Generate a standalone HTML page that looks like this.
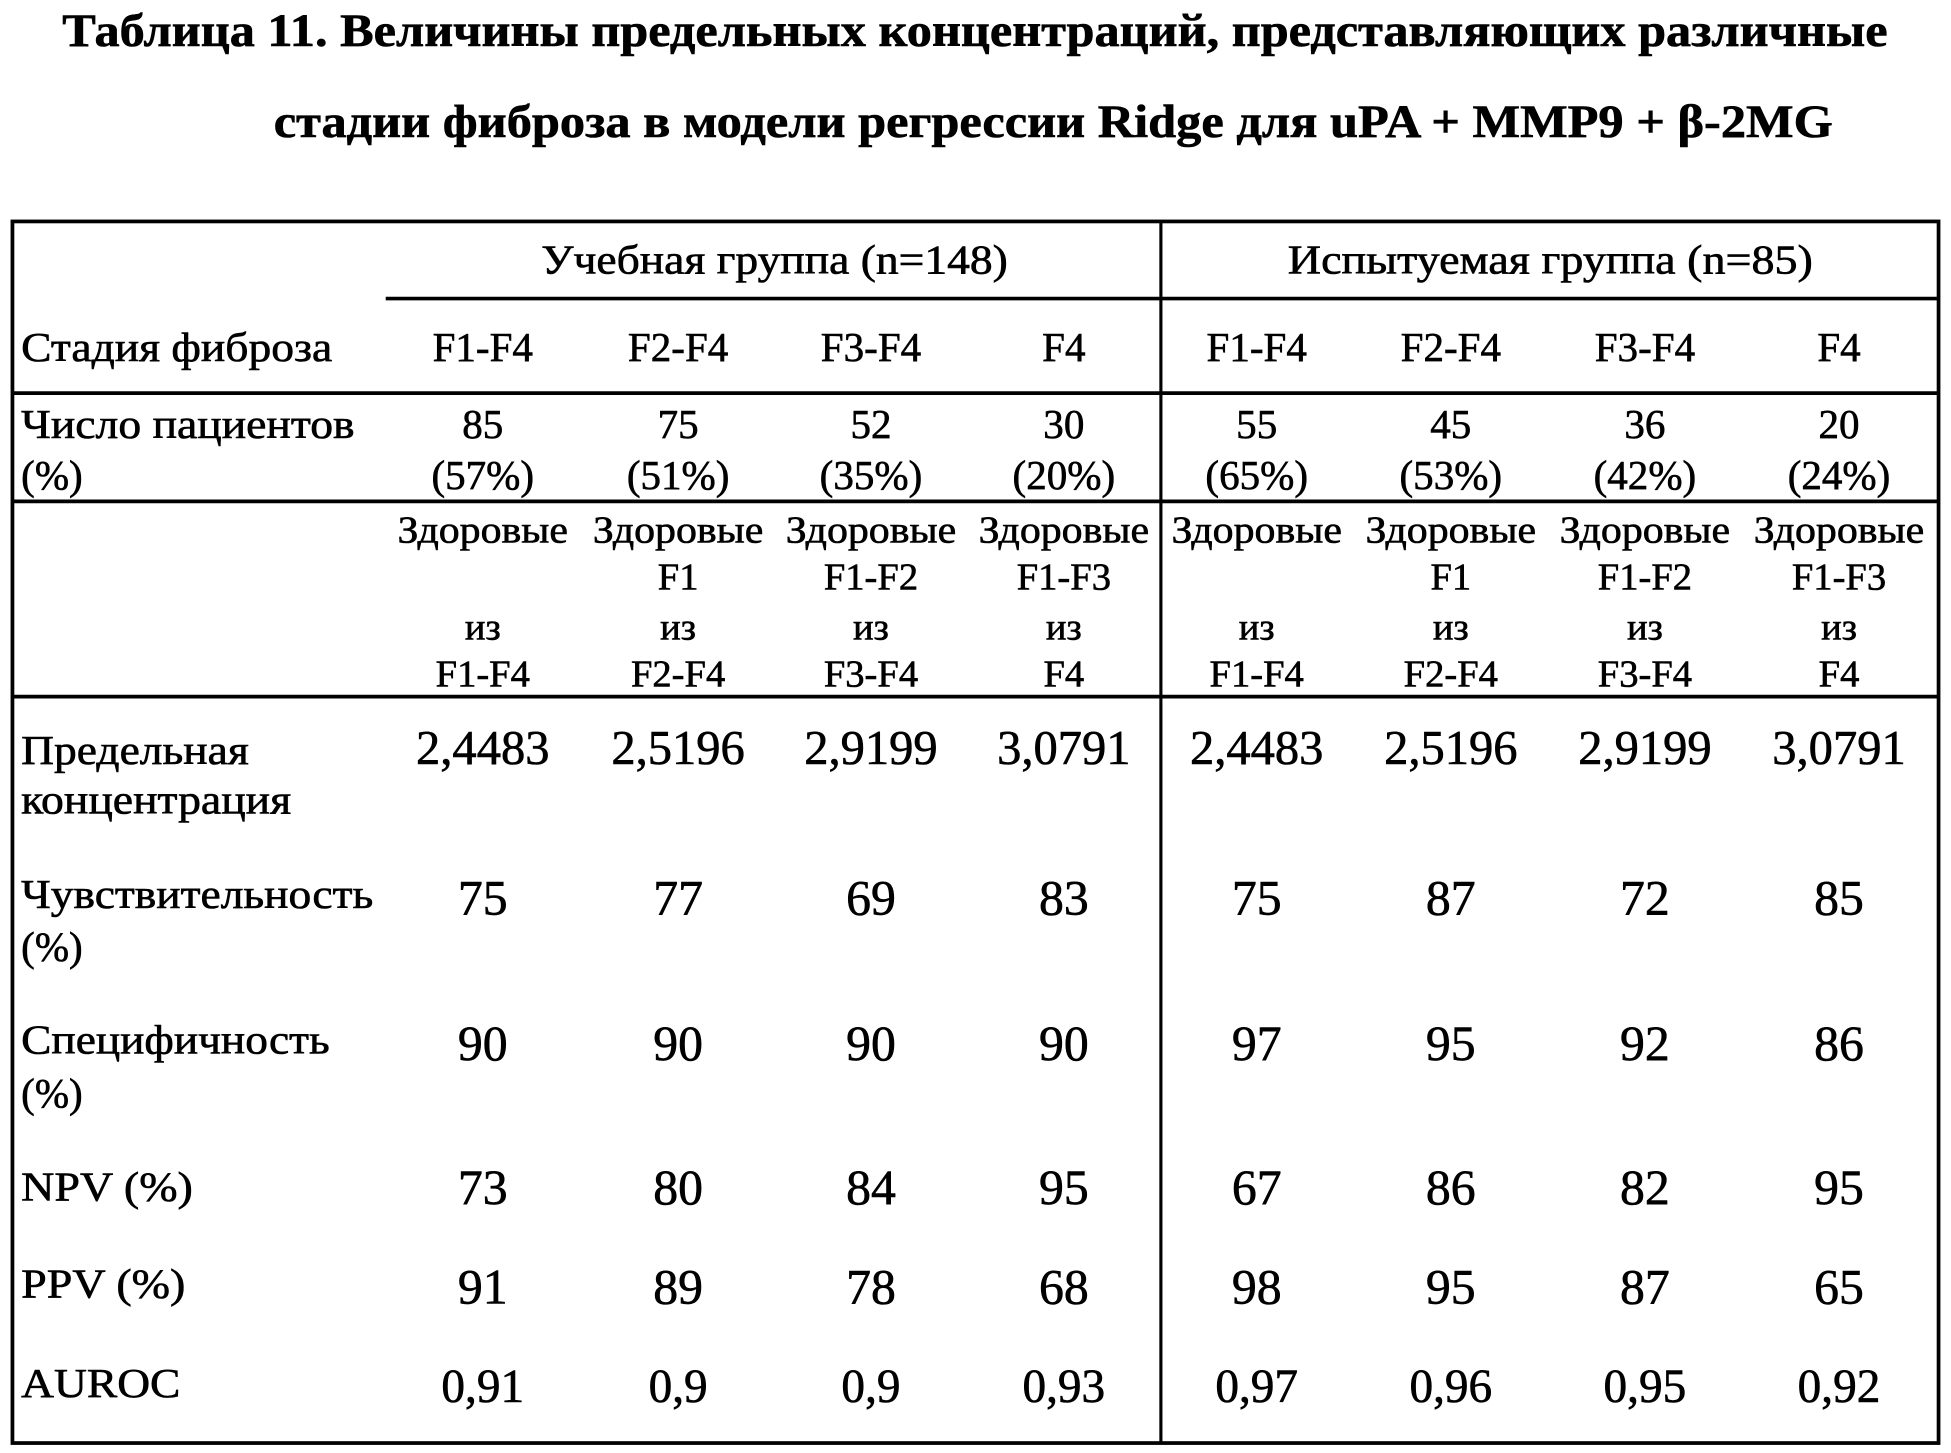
<!DOCTYPE html>
<html><head><meta charset="utf-8"><style>
html,body{margin:0;padding:0;background:#fff;width:1951px;height:1453px;overflow:hidden}
svg{display:block}
text{font-family:"Liberation Serif","DejaVu Serif",serif;fill:#000;stroke:#000;stroke-width:0.5}
</style></head><body>
<svg width="1951" height="1453" viewBox="0 0 1568 1168" preserveAspectRatio="none" xmlns="http://www.w3.org/2000/svg">
<g font-weight="bold" font-size="37">
<text x="50" y="37" textLength="1467" lengthAdjust="spacingAndGlyphs">Таблица 11.   Величины предельных концентраций, представляющих различные</text>
<text x="220" y="110" textLength="1253" lengthAdjust="spacingAndGlyphs">стадии фиброза в модели регрессии Ridge для  uPA + MMP9 + β-2MG</text>
</g>
<g stroke="#000" fill="none">
<rect x="10" y="178" width="1548" height="982" stroke-width="3"/>
<line x1="933" y1="178" x2="933" y2="1160" stroke-width="2.5"/>
<line x1="310" y1="240" x2="1558" y2="240" stroke-width="3"/>
<line x1="10" y1="316" x2="1558" y2="316" stroke-width="3"/>
<line x1="10" y1="403" x2="1558" y2="403" stroke-width="3"/>
<line x1="10" y1="560" x2="1558" y2="560" stroke-width="3"/>
</g>
<g font-size="33">
<text x="435" y="220" textLength="375" lengthAdjust="spacingAndGlyphs">Учебная группа (n=148)</text>
<text x="1035" y="220" textLength="422" lengthAdjust="spacingAndGlyphs">Испытуемая группа (n=85)</text>
<text x="17" y="290" textLength="250" lengthAdjust="spacingAndGlyphs">Стадия фиброза</text>
<text x="17" y="352" textLength="268" lengthAdjust="spacingAndGlyphs">Число пациентов</text>
<text x="17" y="393">(%)</text>
<text x="17" y="614" textLength="183" lengthAdjust="spacingAndGlyphs">Предельная</text>
<text x="17" y="654" textLength="217" lengthAdjust="spacingAndGlyphs">концентрация</text>
<text x="17" y="730" textLength="283" lengthAdjust="spacingAndGlyphs">Чувствительность</text>
<text x="17" y="772">(%)</text>
<text x="17" y="847" textLength="248" lengthAdjust="spacingAndGlyphs">Специфичность</text>
<text x="17" y="890">(%)</text>
<text x="17" y="965" textLength="138" lengthAdjust="spacingAndGlyphs">NPV (%)</text>
<text x="17" y="1043" textLength="132" lengthAdjust="spacingAndGlyphs">PPV (%)</text>
<text x="17" y="1123" textLength="128" lengthAdjust="spacingAndGlyphs">AUROC</text>
</g>
<g font-size="33" text-anchor="middle">
<text x="388" y="290">F1-F4</text><text x="545" y="290">F2-F4</text><text x="700" y="290">F3-F4</text><text x="855" y="290">F4</text>
<text x="1010" y="290">F1-F4</text><text x="1166" y="290">F2-F4</text><text x="1322" y="290">F3-F4</text><text x="1478" y="290">F4</text>
<text x="388" y="352">85</text><text x="545" y="352">75</text><text x="700" y="352">52</text><text x="855" y="352">30</text>
<text x="1010" y="352">55</text><text x="1166" y="352">45</text><text x="1322" y="352">36</text><text x="1478" y="352">20</text>
<text x="388" y="393">(57%)</text><text x="545" y="393">(51%)</text><text x="700" y="393">(35%)</text><text x="855" y="393">(20%)</text>
<text x="1010" y="393">(65%)</text><text x="1166" y="393">(53%)</text><text x="1322" y="393">(42%)</text><text x="1478" y="393">(24%)</text>
</g>
<g font-size="31" text-anchor="middle">
<text x="388" y="436" textLength="137" lengthAdjust="spacingAndGlyphs">Здоровые</text><text x="545" y="436" textLength="137" lengthAdjust="spacingAndGlyphs">Здоровые</text><text x="700" y="436" textLength="137" lengthAdjust="spacingAndGlyphs">Здоровые</text><text x="855" y="436" textLength="137" lengthAdjust="spacingAndGlyphs">Здоровые</text>
<text x="1010" y="436" textLength="137" lengthAdjust="spacingAndGlyphs">Здоровые</text><text x="1166" y="436" textLength="137" lengthAdjust="spacingAndGlyphs">Здоровые</text><text x="1322" y="436" textLength="137" lengthAdjust="spacingAndGlyphs">Здоровые</text><text x="1478" y="436" textLength="137" lengthAdjust="spacingAndGlyphs">Здоровые</text>
<text x="545" y="474">F1</text><text x="700" y="474">F1-F2</text><text x="855" y="474">F1-F3</text>
<text x="1166" y="474">F1</text><text x="1322" y="474">F1-F2</text><text x="1478" y="474">F1-F3</text>
<text x="388" y="514">из</text><text x="545" y="514">из</text><text x="700" y="514">из</text><text x="855" y="514">из</text>
<text x="1010" y="514">из</text><text x="1166" y="514">из</text><text x="1322" y="514">из</text><text x="1478" y="514">из</text>
<text x="388" y="552">F1-F4</text><text x="545" y="552">F2-F4</text><text x="700" y="552">F3-F4</text><text x="855" y="552">F4</text>
<text x="1010" y="552">F1-F4</text><text x="1166" y="552">F2-F4</text><text x="1322" y="552">F3-F4</text><text x="1478" y="552">F4</text>
</g>
<g font-size="39" text-anchor="middle">
<text x="388" y="614">2,4483</text><text x="545" y="614">2,5196</text><text x="700" y="614">2,9199</text><text x="855" y="614">3,0791</text>
<text x="1010" y="614">2,4483</text><text x="1166" y="614">2,5196</text><text x="1322" y="614">2,9199</text><text x="1478" y="614">3,0791</text>
</g>
<g font-size="40" text-anchor="middle">
<text x="388" y="735">75</text><text x="545" y="735">77</text><text x="700" y="735">69</text><text x="855" y="735">83</text>
<text x="1010" y="735">75</text><text x="1166" y="735">87</text><text x="1322" y="735">72</text><text x="1478" y="735">85</text>
<text x="388" y="852">90</text><text x="545" y="852">90</text><text x="700" y="852">90</text><text x="855" y="852">90</text>
<text x="1010" y="852">97</text><text x="1166" y="852">95</text><text x="1322" y="852">92</text><text x="1478" y="852">86</text>
<text x="388" y="968">73</text><text x="545" y="968">80</text><text x="700" y="968">84</text><text x="855" y="968">95</text>
<text x="1010" y="968">67</text><text x="1166" y="968">86</text><text x="1322" y="968">82</text><text x="1478" y="968">95</text>
<text x="388" y="1048">91</text><text x="545" y="1048">89</text><text x="700" y="1048">78</text><text x="855" y="1048">68</text>
<text x="1010" y="1048">98</text><text x="1166" y="1048">95</text><text x="1322" y="1048">87</text><text x="1478" y="1048">65</text>
</g>
<g font-size="38" text-anchor="middle">
<text x="388" y="1127">0,91</text><text x="545" y="1127">0,9</text><text x="700" y="1127">0,9</text><text x="855" y="1127">0,93</text>
<text x="1010" y="1127">0,97</text><text x="1166" y="1127">0,96</text><text x="1322" y="1127">0,95</text><text x="1478" y="1127">0,92</text>
</g>
</svg>
</body></html>
